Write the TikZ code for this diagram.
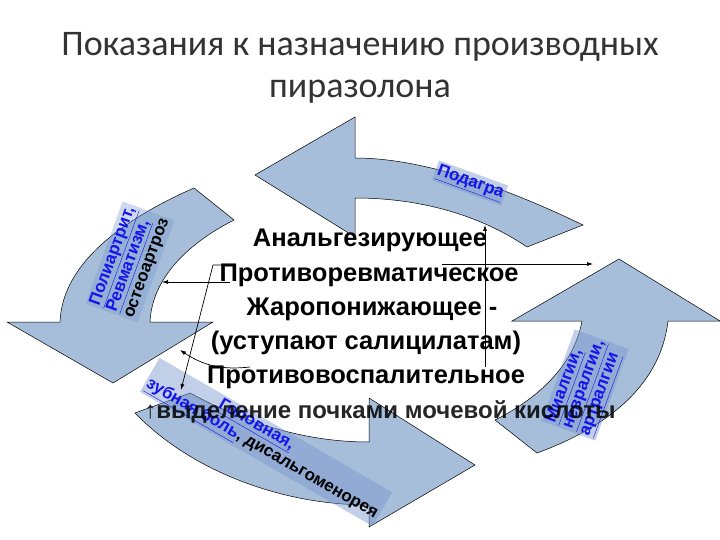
\documentclass[tikz,border=0pt]{standalone}
\usepackage{fontspec}
\setmainfont{Liberation Sans}
\newfontfamily\titlefont{Carlito}
\usetikzlibrary{arrows.meta}
\definecolor{arrfill}{RGB}{166,190,218}
\definecolor{boxfill}{RGB}{120,150,205}
\definecolor{linkblue}{RGB}{20,20,235}
\tikzset{
 bigarrow/.style={fill=arrfill,draw=black,line width=0.5pt},
 lbl/.style={fill=boxfill,fill opacity=0.45,text opacity=1,inner sep=2pt,align=left,font=\bfseries\fontsize{17}{18}\selectfont},
 main/.style={font=\bfseries\fontsize{25.5}{28}\selectfont,inner sep=0pt},
 conn/.style={draw=black,line width=0.7pt,-{Latex[length=6pt,width=4pt]}},
}
\newcommand{\lk}[1]{\textcolor{linkblue}{\underline{#1}}}
\begin{document}
\begin{tikzpicture}[x=1pt,y=-1pt]
\useasboundingbox (0,0) rectangle (720,540);
\fill[white] (0,0) rectangle (720,540);
\node[font=\titlefont\fontsize{36}{42}\selectfont,align=center,text=black!80] (title) at (360,68) {Показания к назначению производных\\пиразолона};
% top arrow
\path[bigarrow] (583,225) .. controls (500,185) and (420,158) .. (355,158) -- (355,117) -- (255,175) -- (355,237) -- (355,198) .. controls (420,198) and (480,215) .. (527,247) -- cycle;
% left arrow
\path[bigarrow] (194,188) .. controls (110,225) and (62,270) .. (60,322) -- (7,322) -- (113,383) -- (213,322) -- (150,322) .. controls (152,280) and (185,245) .. (234,220) -- cycle;
% bottom arrow
\path[bigarrow] (190,393) .. controls (240,420) and (300,442) .. (369,442) -- (369,398) -- (475,465) -- (369,527) -- (369,505) .. controls (280,505) and (190,470) .. (135,413) -- cycle;
% right arrow
\path[bigarrow] (537,453) .. controls (600,430) and (660,390) .. (668,321) -- (720,321) -- (619,259) -- (512,321) -- (582,321) .. controls (575,360) and (545,395) .. (495,420) -- cycle;
% labels
\node[lbl,rotate=-20] (gout) at (470,183) {\lk{Подагра}};
\node[lbl,rotate=70,fill opacity=0.35] (leftlbl) at (130,262) {\lk{Полиартрит,}\\\lk{Ревматизм,}\\остеоартроз};
\node[lbl,rotate=70] (rightlbl) at (585,385) {\lk{Миалгии,}\\\lk{невралгии,}\\\lk{артралгии}};
% center text
\node[main] (t1) at (370,240) {Анальгезирующее};
\node[main] (t2) at (369,275) {Противоревматическое};
\node[main] (t3) at (372,309) {Жаропонижающее -};
\node[main] (t4) at (366,343) {(уступают салицилатам)};
\node[main] (t5) at (366,377) {Противовоспалительное};
\node[lbl,rotate=-30,align=left] (botlbl) at (266,442) {\hspace*{4.3em}\lk{Головная,}\\\lk{зубная боль}, дисальгоменорея};
\node[main,text opacity=0.85,font=\bfseries\fontsize{24}{28}\selectfont] (t6) at (380,412) {↑выделение почками мочевой кислоты};
% connectors
\coordinate (c1a) at (485,367); \coordinate (c1b) at (485,225);
\draw[conn] (c1a) -- (c1b);
\coordinate (c2a) at (442,264); \coordinate (c2b) at (593,264);
\draw[conn] (c2a) -- (c2b);
\coordinate (c3a) at (230,282); \coordinate (c3b) at (162,282);
\draw[conn] (c3a) -- (c3b);
\coordinate (c4a) at (225,265); \coordinate (c4m) at (213,265); \coordinate (c4b) at (181,390);
\draw[conn] (c4a) -- (c4m) -- (c4b);
\coordinate (c5a) at (250,367); \coordinate (c5b) at (180,350);
\draw[conn] (c5a) to[bend left=20] (c5b);
\end{tikzpicture}
\end{document}
